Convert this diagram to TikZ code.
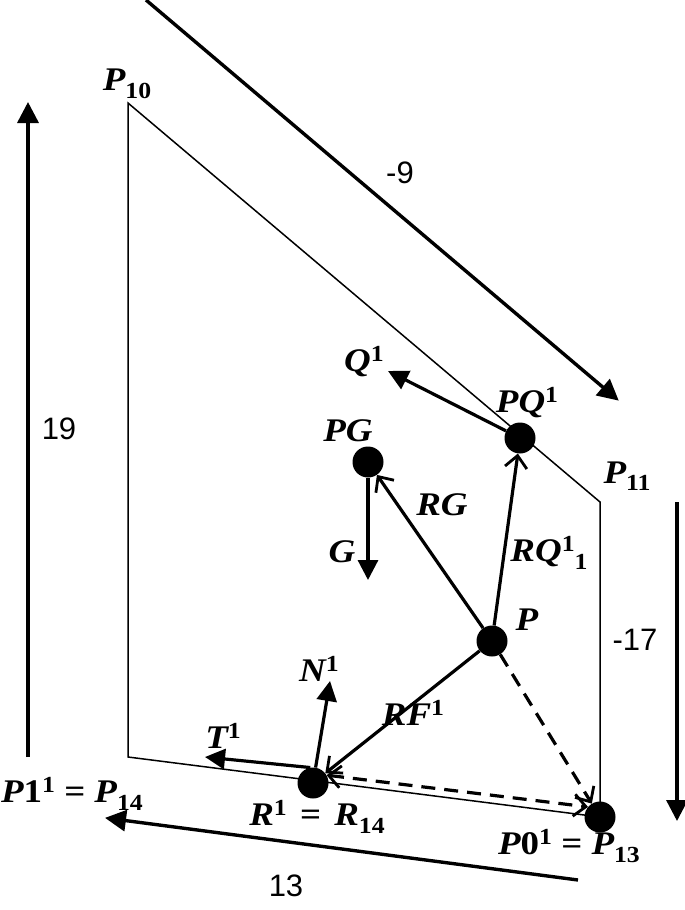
\documentclass[tikz,border=0pt]{standalone}
\usepackage{fontspec}
\setmainfont{Liberation Sans}
\newfontfamily\labfont[FakeStretch=1.12]{Liberation Serif}
\usetikzlibrary{arrows.meta}
\newcommand{\lI}[1]{{\labfont\bfseries\itshape #1}}
\newcommand{\lU}[1]{{\labfont\bfseries\upshape #1}}
\newcommand{\up}[1]{\raisebox{10pt}{\fontsize{23}{23}\selectfont\lU{#1}}}
\newcommand{\dn}[1]{\raisebox{-7.5pt}{\fontsize{23}{23}\selectfont\lU{#1}}}
\tikzset{
  x=1pt,y=-1pt,
  frameline/.style={line width=1.5pt,black},
  bigarrow/.style={line width=3.4pt,-{Triangle[length=21pt,width=21pt]},shorten >=-1pt},
  vecarrow/.style={line width=3.2pt,-{Triangle[length=20pt,width=20pt]}},
  openarrow/.style={line width=3.2pt,-{Straight Barb[length=12pt,width=22pt,line width=2.8pt]}},
  dasharrow/.style={line width=3.2pt,dash pattern=on 14pt off 9pt,{Straight Barb[length=12pt,width=22pt,line width=2.8pt]}-{Straight Barb[length=12pt,width=22pt,line width=2.8pt]}},
  dashend/.style={line width=3.2pt,dash pattern=on 14pt off 9pt,-{Straight Barb[length=12pt,width=22pt,line width=2.8pt]}},
  dotnode/.style={circle,fill=black,inner sep=0pt,minimum size=31pt},
  lab/.style={inner sep=0pt,font=\fontsize{33}{33}\selectfont},
  num/.style={inner sep=0pt,font=\fontsize{31}{31}\selectfont}
}
\begin{document}
\begin{tikzpicture}
\useasboundingbox (0,0) rectangle (685,910);
% frame
\coordinate (c10) at (128,103);
\coordinate (c11) at (600,502);
\coordinate (c14) at (128,757);
\draw[frameline] (c10) -- (c11) -- (600,817) -- (c14) -- cycle;
% dots
\node[dotnode] (pq) at (520,438) {};
\node[dotnode] (pg) at (368,462) {};
\node[dotnode] (p)  at (492,641) {};
\node[dotnode] (r)  at (313,783) {};
\node[dotnode] (p0) at (600,817) {};
% free ends
\coordinate (q) at (388,371);
\coordinate (g) at (368,580);
\coordinate (t) at (205,757);
\coordinate (n) at (330,681);
\coordinate (a1) at (146,0);  \coordinate (a2) at (618,400);
\coordinate (b1) at (28,757); \coordinate (b2) at (28,103);
\coordinate (d1) at (677,502);\coordinate (d2) at (677,820);
\coordinate (e1) at (578,880);\coordinate (e2) at (106,818);
% large arrows
\draw[bigarrow] (a1) -- (a2);
\draw[bigarrow] (b1) -- (b2);
\draw[bigarrow] (d1) -- (d2);
\draw[bigarrow] (e1) -- (e2);
% vectors
\draw[vecarrow] (pq) -- (q);
\draw[vecarrow] (pg) -- (g);
\draw[vecarrow] (r.100) -- (t);
\draw[vecarrow] (r) -- (n);
\draw[openarrow] (p) -- (pg);
\draw[openarrow] (p) -- (pq);
\draw[openarrow] (p) -- (r);
\draw[dashend] (p) -- (p0);
\draw[dasharrow] (r.30) -- (p0.140);
% labels
\node[lab] (l10) at (127,84) {\lI{P}\dn{10}};
\node[lab] (l11) at (627,476) {\lI{P}\dn{11}};
\node[lab] (lq) at (364,362) {\lI{Q}\up{1}};
\node[lab] (lpq) at (527,403) {\lI{PQ}\up{1}};
\node[lab] (lpg) at (348,431) {\lI{PG}};
\node[lab] (lrg) at (442,505) {\lI{RG}};
\node[lab] (lg) at (342,552) {\lI{G}};
\node[lab] (lrq) at (549,553) {\lI{RQ}\up{1}\dn{1}};
\node[lab] (lp) at (527,620) {\lI{P}};
\node[lab] (ln) at (319,669) {\lI{N}\up{1}};
\node[lab] (lrf) at (413,713) {\lI{RF}\up{1}};
\node[lab] (lt) at (223,736) {\lI{T}\up{1}};
\node[lab] (l14) at (72,794) {\lI{P}\lU{1}\up{1} \lU{=} \lI{P}\dn{14}};
\node[lab] (lr) at (317,817) {\lI{R}\up{1}\hspace{4pt} \lU{=} \hspace{4pt}\lI{R}\dn{14}};
\node[lab] (l13) at (569,846) {\lI{P}\lU{0}\up{1} \lU{=} \lI{P}\dn{13}};
\node[num] (n9) at (400,173) {-9};
\node[num] (n19) at (59,429) {19};
\node[num] (n17) at (635,640) {-17};
\node[num] (n13) at (286,886) {13};
\end{tikzpicture}
\end{document}
